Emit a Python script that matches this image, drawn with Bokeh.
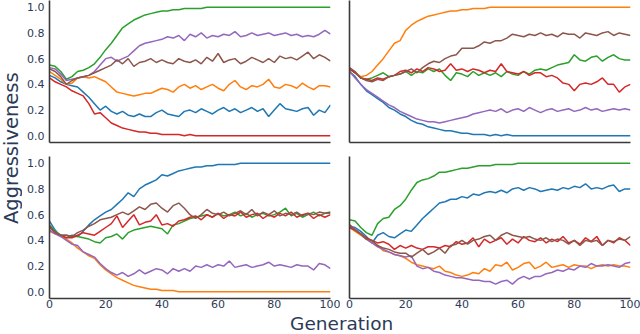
import math
from bokeh.plotting import figure
from bokeh.models import Range1d, FixedTicker, PrintfTickFormatter, Label, GridBox
from bokeh.embed import file_html
from bokeh.resources import INLINE

gens = list(range(0, 101, 2))
series_names = ["blue", "orange", "green", "red", "purple", "brown"]
colors = ["#1f77b4", "#ff7f0e", "#2ca02c", "#d62728", "#9467bd", "#8c564b"]
x_ticks = [0, 20, 40, 60, 80, 100]
y_ticks = [0.0, 0.2, 0.4, 0.6, 0.8, 1.0]

# ---- top-left panel ----
tl_blue = [0.47,0.45,0.42,0.40,0.39,0.38,0.34,0.30,0.25,0.20,
           0.23,0.19,0.17,0.19,0.16,0.15,0.17,0.15,0.15,0.18,
           0.20,0.17,0.16,0.15,0.19,0.20,0.18,0.21,0.19,0.17,
           0.20,0.22,0.19,0.21,0.18,0.20,0.22,0.19,0.21,0.15,
           0.20,0.25,0.21,0.20,0.19,0.21,0.22,0.16,0.20,0.18,
           0.24]
tl_orange = [0.50,0.47,0.44,0.40,0.41,0.45,0.46,0.45,0.46,0.44,
             0.42,0.38,0.34,0.33,0.32,0.31,0.32,0.33,0.33,0.35,
             0.37,0.36,0.34,0.38,0.40,0.37,0.39,0.36,0.38,0.40,
             0.37,0.35,0.40,0.43,0.38,0.36,0.39,0.38,0.40,0.44,
             0.38,0.37,0.40,0.39,0.37,0.41,0.38,0.36,0.39,0.39,
             0.38]
tl_green = [0.55,0.54,0.50,0.44,0.46,0.50,0.51,0.53,0.56,0.61,
            0.67,0.72,0.78,0.84,0.87,0.90,0.92,0.94,0.95,0.96,
            0.97,0.97,0.98,0.98,0.99,0.99,0.99,0.99,1.00,1.00,
            1.00,1.00,1.00,1.00,1.00,1.00,1.00,1.00,1.00,1.00,
            1.00,1.00,1.00,1.00,1.00,1.00,1.00,1.00,1.00,1.00,
            1.00]
tl_red = [0.45,0.42,0.40,0.38,0.35,0.33,0.31,0.25,0.17,0.18,
          0.14,0.10,0.08,0.06,0.05,0.04,0.03,0.03,0.02,0.02,
          0.01,0.01,0.01,0.01,0.00,0.01,0.00,0.00,0.00,0.00,
          0.00,0.00,0.00,0.00,0.00,0.00,0.00,0.00,0.00,0.00,
          0.00,0.00,0.00,0.00,0.00,0.00,0.00,0.00,0.00,0.00,
          0.00]
tl_purple = [0.53,0.52,0.48,0.43,0.44,0.45,0.46,0.47,0.50,0.55,
             0.60,0.61,0.58,0.60,0.62,0.66,0.70,0.72,0.73,0.74,
             0.75,0.77,0.76,0.78,0.74,0.79,0.77,0.80,0.76,0.78,
             0.77,0.79,0.78,0.81,0.77,0.78,0.80,0.78,0.79,0.80,
             0.78,0.79,0.80,0.78,0.79,0.77,0.78,0.77,0.79,0.82,
             0.79]
tl_brown = [0.52,0.50,0.46,0.40,0.43,0.45,0.46,0.47,0.49,0.51,
            0.53,0.55,0.59,0.56,0.60,0.54,0.57,0.58,0.60,0.57,
            0.59,0.57,0.56,0.60,0.58,0.57,0.59,0.56,0.61,0.58,
            0.64,0.57,0.59,0.60,0.56,0.58,0.61,0.59,0.57,0.60,
            0.57,0.62,0.60,0.61,0.59,0.62,0.65,0.60,0.63,0.61,
            0.58]

# ---- top-right panel ----
tr_blue = [0.50,0.46,0.40,0.35,0.32,0.29,0.26,0.22,0.20,0.17,
           0.15,0.12,0.10,0.09,0.07,0.06,0.05,0.04,0.04,0.03,
           0.02,0.02,0.01,0.01,0.01,0.00,0.01,0.00,0.01,0.00,
           0.00,0.00,0.00,0.00,0.00,0.00,0.00,0.00,0.00,0.00,
           0.00,0.00,0.00,0.00,0.00,0.00,0.00,0.00,0.00,0.00,
           0.00]
tr_orange = [0.52,0.49,0.46,0.47,0.50,0.55,0.60,0.66,0.72,0.74,
             0.82,0.86,0.89,0.91,0.93,0.94,0.95,0.96,0.97,0.97,
             0.98,0.98,0.99,0.99,0.99,1.00,1.00,1.00,1.00,1.00,
             1.00,1.00,1.00,1.00,1.00,1.00,1.00,1.00,1.00,1.00,
             1.00,1.00,1.00,1.00,1.00,1.00,1.00,1.00,1.00,1.00,
             1.00]
tr_green = [0.52,0.49,0.45,0.44,0.45,0.47,0.49,0.46,0.47,0.48,
            0.50,0.47,0.50,0.49,0.52,0.50,0.52,0.47,0.43,0.49,
            0.48,0.46,0.50,0.47,0.49,0.47,0.49,0.46,0.50,0.48,
            0.47,0.50,0.48,0.51,0.52,0.51,0.53,0.55,0.56,0.57,
            0.63,0.59,0.58,0.61,0.62,0.58,0.61,0.63,0.60,0.59,
            0.59]
tr_red = [0.52,0.49,0.45,0.44,0.43,0.45,0.44,0.46,0.47,0.50,
          0.51,0.49,0.52,0.50,0.53,0.52,0.50,0.51,0.56,0.51,
          0.52,0.50,0.52,0.51,0.49,0.51,0.50,0.56,0.50,0.49,
          0.48,0.50,0.47,0.49,0.49,0.46,0.47,0.45,0.41,0.40,
          0.35,0.40,0.41,0.40,0.42,0.45,0.40,0.40,0.34,0.38,
          0.40]
tr_purple = [0.50,0.45,0.40,0.36,0.33,0.30,0.27,0.24,0.22,0.19,
             0.17,0.15,0.13,0.12,0.11,0.11,0.10,0.11,0.12,0.13,
             0.14,0.15,0.17,0.18,0.19,0.20,0.19,0.21,0.18,0.20,
             0.21,0.19,0.22,0.20,0.18,0.20,0.21,0.19,0.20,0.21,
             0.19,0.20,0.22,0.20,0.21,0.19,0.20,0.21,0.20,0.21,
             0.20]
tr_brown = [0.53,0.50,0.45,0.43,0.42,0.44,0.43,0.46,0.47,0.48,
            0.50,0.52,0.49,0.53,0.56,0.58,0.57,0.60,0.62,0.63,
            0.68,0.68,0.68,0.70,0.73,0.72,0.74,0.74,0.76,0.79,
            0.78,0.77,0.79,0.78,0.80,0.78,0.79,0.77,0.80,0.79,
            0.79,0.76,0.80,0.79,0.78,0.80,0.81,0.78,0.80,0.79,
            0.78]

# ---- bottom-left panel ----
bl_blue = [0.55,0.48,0.43,0.42,0.44,0.43,0.47,0.52,0.56,0.59,
           0.62,0.64,0.68,0.72,0.77,0.74,0.80,0.83,0.85,0.87,
           0.91,0.90,0.92,0.94,0.95,0.96,0.97,0.97,0.98,0.98,
           0.99,0.99,0.99,0.99,1.00,1.00,1.00,1.00,1.00,1.00,
           1.00,1.00,1.00,1.00,1.00,1.00,1.00,1.00,1.00,1.00,
           1.00]
bl_orange = [0.47,0.45,0.44,0.41,0.38,0.34,0.31,0.28,0.26,0.21,
             0.17,0.14,0.11,0.09,0.07,0.05,0.04,0.03,0.02,0.02,
             0.01,0.01,0.01,0.00,0.00,0.00,0.00,0.00,0.00,0.00,
             0.00,0.00,0.00,0.00,0.00,0.00,0.00,0.00,0.00,0.00,
             0.00,0.00,0.00,0.00,0.00,0.00,0.00,0.00,0.00,0.00,
             0.00]
bl_green = [0.52,0.47,0.44,0.44,0.43,0.43,0.42,0.41,0.39,0.38,
            0.42,0.43,0.45,0.41,0.46,0.48,0.49,0.50,0.51,0.50,
            0.49,0.45,0.52,0.53,0.55,0.57,0.58,0.59,0.60,0.58,
            0.61,0.59,0.60,0.62,0.59,0.61,0.58,0.60,0.61,0.59,
            0.60,0.62,0.65,0.59,0.61,0.58,0.60,0.62,0.59,0.61,
            0.61]
bl_red = [0.51,0.46,0.44,0.42,0.42,0.44,0.46,0.45,0.44,0.47,
          0.50,0.53,0.59,0.50,0.55,0.60,0.52,0.54,0.55,0.60,
          0.52,0.53,0.51,0.55,0.56,0.58,0.59,0.56,0.60,0.58,
          0.61,0.57,0.60,0.59,0.62,0.58,0.60,0.61,0.57,0.60,
          0.58,0.61,0.59,0.62,0.58,0.60,0.61,0.57,0.60,0.58,
          0.60]
bl_purple = [0.48,0.45,0.43,0.40,0.37,0.36,0.31,0.29,0.27,0.22,
             0.18,0.15,0.13,0.15,0.12,0.14,0.17,0.14,0.16,0.18,
             0.17,0.14,0.18,0.16,0.18,0.16,0.20,0.19,0.21,0.19,
             0.21,0.20,0.24,0.19,0.20,0.21,0.19,0.20,0.21,0.23,
             0.20,0.21,0.20,0.19,0.21,0.20,0.20,0.17,0.22,0.21,
             0.18]
bl_brown = [0.50,0.46,0.44,0.44,0.43,0.46,0.48,0.51,0.53,0.56,
            0.57,0.58,0.60,0.62,0.60,0.63,0.66,0.64,0.68,0.69,
            0.65,0.62,0.67,0.69,0.65,0.60,0.57,0.60,0.64,0.61,
            0.60,0.62,0.59,0.61,0.63,0.60,0.64,0.59,0.62,0.60,
            0.63,0.59,0.61,0.60,0.62,0.59,0.61,0.60,0.62,0.61,
            0.62]

# ---- bottom-right panel ----
br_blue = [0.51,0.50,0.47,0.43,0.38,0.44,0.46,0.43,0.42,0.45,
           0.48,0.47,0.52,0.57,0.61,0.65,0.69,0.70,0.72,0.72,
           0.74,0.73,0.76,0.75,0.77,0.78,0.77,0.79,0.77,0.80,
           0.81,0.79,0.81,0.80,0.78,0.79,0.80,0.79,0.81,0.80,
           0.82,0.81,0.84,0.80,0.81,0.80,0.82,0.83,0.78,0.80,
           0.80]
br_orange = [0.50,0.47,0.44,0.41,0.38,0.36,0.32,0.31,0.29,0.28,
             0.26,0.23,0.21,0.20,0.19,0.18,0.20,0.16,0.15,0.13,
             0.12,0.13,0.15,0.14,0.18,0.16,0.21,0.20,0.23,0.17,
             0.19,0.22,0.23,0.18,0.20,0.23,0.19,0.20,0.21,0.19,
             0.21,0.20,0.20,0.18,0.20,0.21,0.20,0.21,0.20,0.20,
             0.19]
br_green = [0.56,0.55,0.50,0.46,0.44,0.53,0.57,0.58,0.64,0.67,
            0.72,0.79,0.85,0.87,0.88,0.90,0.93,0.93,0.94,0.95,
            0.96,0.96,0.97,0.98,0.98,0.98,0.99,0.99,0.99,0.99,
            1.00,1.00,1.00,1.00,1.00,1.00,1.00,1.00,1.00,1.00,
            1.00,1.00,1.00,1.00,1.00,1.00,1.00,1.00,1.00,1.00,
            1.00]
br_red = [0.50,0.48,0.45,0.42,0.40,0.38,0.39,0.37,0.33,0.36,
          0.34,0.36,0.34,0.33,0.35,0.35,0.34,0.36,0.35,0.39,
          0.37,0.38,0.42,0.35,0.41,0.38,0.40,0.42,0.37,0.41,
          0.38,0.43,0.40,0.39,0.42,0.38,0.41,0.39,0.43,0.38,
          0.40,0.37,0.42,0.39,0.43,0.36,0.40,0.38,0.42,0.40,
          0.36]
br_purple = [0.52,0.49,0.45,0.41,0.38,0.35,0.33,0.31,0.29,0.28,
             0.27,0.28,0.20,0.18,0.19,0.16,0.15,0.13,0.12,0.11,
             0.11,0.10,0.09,0.09,0.08,0.08,0.06,0.08,0.09,0.06,
             0.10,0.12,0.10,0.12,0.12,0.14,0.15,0.17,0.16,0.18,
             0.17,0.20,0.19,0.22,0.20,0.20,0.21,0.20,0.19,0.22,
             0.23]
br_brown = [0.52,0.48,0.45,0.41,0.40,0.36,0.34,0.33,0.31,0.30,
            0.30,0.27,0.30,0.33,0.29,0.31,0.34,0.30,0.36,0.37,
            0.40,0.37,0.40,0.41,0.43,0.44,0.40,0.44,0.46,0.44,
            0.43,0.42,0.43,0.41,0.40,0.42,0.39,0.41,0.40,0.37,
            0.40,0.36,0.40,0.39,0.40,0.36,0.40,0.39,0.41,0.40,
            0.43]

panels = [
    [tl_blue, tl_orange, tl_green, tl_red, tl_purple, tl_brown],
    [tr_blue, tr_orange, tr_green, tr_red, tr_purple, tr_brown],
    [bl_blue, bl_orange, bl_green, bl_red, bl_purple, bl_brown],
    [br_blue, br_orange, br_green, br_red, br_purple, br_brown],
]

FONT = "DejaVu Sans"
TEXT_COLOR = "#2b3a57"
SPINE = "#3a3a3a"
FW, FH = 281, 142
YLAB_W = 22
L_LEFT, L_RIGHT = 27, 10
R_LEFT, R_RIGHT = 9, 10
GAP_HALF = 7
XAX_H = 14
XLAB_H = 22
YLAB_FS = 19.5
XLAB_FS = 18.5

left_w = L_LEFT + FW + L_RIGHT      # 318
right_w = R_LEFT + FW + R_RIGHT     # 300
top_h = FH + GAP_HALF               # 149
bot_h = GAP_HALF + FH + XAX_H       # 163
total_h = top_h + bot_h             # 312


def make_panel(series, top, left):
    p = figure(width=left_w if left else right_w,
               height=top_h if top else bot_h,
               x_range=Range1d(0, 100), y_range=Range1d(-0.052, 1.052),
               output_backend="svg", toolbar_location=None,
               min_border_left=L_LEFT if left else R_LEFT,
               min_border_right=L_RIGHT if left else R_RIGHT,
               min_border_top=0 if top else GAP_HALF,
               min_border_bottom=GAP_HALF if top else XAX_H)
    p.outline_line_color = None
    p.grid.visible = False
    for ax in (p.xaxis[0], p.yaxis[0]):
        ax.axis_line_color = SPINE
        ax.axis_line_width = 1.6
        ax.major_tick_line_color = None
        ax.minor_tick_line_color = None
        ax.major_tick_out = 0
        ax.major_tick_in = 0
        ax.major_label_text_font = FONT
        ax.major_label_text_color = TEXT_COLOR
        ax.major_label_text_font_size = "11px"
    p.xaxis.ticker = FixedTicker(ticks=[] if top else x_ticks)
    p.xaxis.formatter = PrintfTickFormatter(format="%d")
    p.yaxis.ticker = FixedTicker(ticks=y_ticks if left else [])
    p.yaxis.formatter = PrintfTickFormatter(format="%.1f")
    p.xaxis.major_label_standoff = 1
    p.yaxis.major_label_standoff = 5
    for vals, c in zip(series, colors):
        p.line(gens, vals, line_color=c, line_width=1.5)
    return p


tl = make_panel(panels[0], True, True)
tr = make_panel(panels[1], True, False)
bl = make_panel(panels[2], False, True)
br = make_panel(panels[3], False, False)

# y label: rotated, anchored at its start (bottom end), centred on the panel gap
ylab_len = 7.798 * YLAB_FS           # DejaVu Sans advance width of the word
ylab = figure(width=YLAB_W, height=total_h,
              x_range=Range1d(0, YLAB_W), y_range=Range1d(0, total_h),
              x_axis_type=None, y_axis_type=None,
              output_backend="svg", toolbar_location=None,
              min_border=0)
ylab.outline_line_color = None
ylab.grid.visible = False
ylab.add_layout(Label(x=YLAB_W / 2, y=total_h - 150 - ylab_len / 2 - 8, text="Aggressiveness",
                      angle=math.pi / 2, text_align="left", text_baseline="middle",
                      text_font=FONT, text_font_size=f"{YLAB_FS}px", text_color=TEXT_COLOR))

# x label: anchored at its left end, centred on the gap between the columns
xlab_len = 5.579 * XLAB_FS
xlab = figure(width=left_w + right_w, height=XLAB_H,
              x_range=Range1d(0, left_w + right_w), y_range=Range1d(0, XLAB_H),
              x_axis_type=None, y_axis_type=None,
              output_backend="svg", toolbar_location=None,
              min_border=0)
xlab.outline_line_color = None
xlab.grid.visible = False
xlab.add_layout(Label(x=338.5 - YLAB_W - xlab_len / 2 - 9, y=XLAB_H / 2, text="Generation",
                      text_align="left", text_baseline="middle",
                      text_font=FONT, text_font_size=f"{XLAB_FS}px", text_color=TEXT_COLOR))

grid = GridBox(children=[
    (ylab, 0, 0, 2, 1),
    (tl, 0, 1), (tr, 0, 2),
    (bl, 1, 1), (br, 1, 2),
    (xlab, 2, 1, 1, 2),
], spacing=0)

open("out.html", "w").write(file_html(grid, INLINE))
